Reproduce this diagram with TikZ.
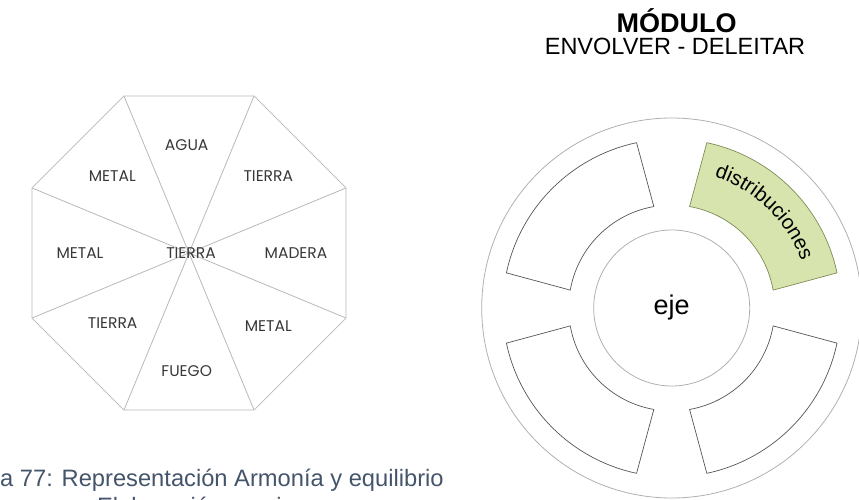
\documentclass[tikz,border=0pt]{standalone}
\usepackage{fontspec}
\setmainfont{Liberation Sans}
\newfontfamily\gothic{Poppins}
\usetikzlibrary{decorations.text}
\definecolor{capblue}{HTML}{44546A}
\definecolor{octline}{HTML}{B8B8B8}
\definecolor{ringline}{HTML}{B0B0B0}
\definecolor{segline}{HTML}{555555}
\definecolor{segfill}{HTML}{D7E4AE}
\definecolor{seggreen}{HTML}{7D8C55}
\begin{document}
\begin{tikzpicture}[x=1pt,y=1pt,
  lab/.style={font=\gothic\fontsize{15.5}{15.5}\selectfont, text=black!78, inner sep=0},
  octl/.style={draw=octline, line width=0.8pt},
  ring/.style={draw=ringline, line width=0.8pt},
  seg/.style={draw=segline, line width=0.7pt, fill=white},
  capt/.style={font=\fontsize{23.7}{23.7}\selectfont, text=capblue, inner sep=0},
]
\useasboundingbox (0,0) rectangle (859,499);
\clip (0,0) rectangle (859,499);

% ---------- octagon ----------
\coordinate (O) at (189,246);
\foreach \k in {0,...,7}{
  \path (O) ++(22.5+45*\k:170) coordinate (v\k);
}
\draw[octl] (v0)--(v1)--(v2)--(v3)--(v4)--(v5)--(v6)--(v7)--cycle;
\draw[octl] (v0)--(v4) (v1)--(v5) (v2)--(v6) (v3)--(v7);

\node[lab] (agua)   at (186.7,354.2) {AGUA};
\node[lab] (metul)  at (112.3,323.3) {METAL};
\node[lab] (tieur)  at (268.3,323.3) {TIERRA};
\node[lab] (metl)   at (80,246)      {METAL};
\node[lab] (tiec)   at (191,246)     {TIERRA};
\node[lab] (mad)    at (296,246)     {MADERA};
\node[lab] (tiell)  at (112.7,176)   {TIERRA};
\node[lab] (metlr)  at (268.3,173.3) {METAL};
\node[lab] (fuego)  at (186.7,128)   {FUEGO};

% ---------- caption ----------
\node[capt, anchor=base west] (cap1) at (0,13) {a 77: Representación Armonía y equilibrio};
\node[capt, anchor=base] (cap2) at (196,-15.5) {Elaboración propia};

% ---------- title ----------
\node[anchor=base, inner sep=0, font=\bfseries\fontsize{27}{27}\selectfont] (tit) at (676.7,466) {MÓDULO};
\node[anchor=base, inner sep=0, font=\fontsize{23.5}{23.5}\selectfont] (sub) at (675,444.7) {ENVOLVER - DELEITAR};

% ---------- module ----------
\coordinate (C) at (671.7,191);
\draw[ring] (C) circle[radius=190];
\foreach \c in {135,225,315}{
  \draw[seg] ([shift={(\c+35:103)}]C) arc[start angle=\c+35, end angle=\c-35, radius=103]
     -- ([shift={(\c-33:169)}]C) arc[start angle=\c-33, end angle=\c+33, radius=169] -- cycle;
}
\draw[seg, fill=segfill, draw=seggreen] ([shift={(80:103)}]C) arc[start angle=80, end angle=10, radius=103]
     -- ([shift={(12:169)}]C) arc[start angle=12, end angle=78, radius=169] -- cycle;
\path[decorate, decoration={text along path, text align=center,
   text={|\fontsize{20.5}{20.5}\selectfont|distribuciones}}]
   ([shift={(82:138)}]C) arc[start angle=82, end angle=10, radius=138];
\draw[ring] (C) circle[radius=78];
\node[inner sep=0, font=\fontsize{27}{27}\selectfont] (eje) at (C) {eje};
\end{tikzpicture}
\end{document}
